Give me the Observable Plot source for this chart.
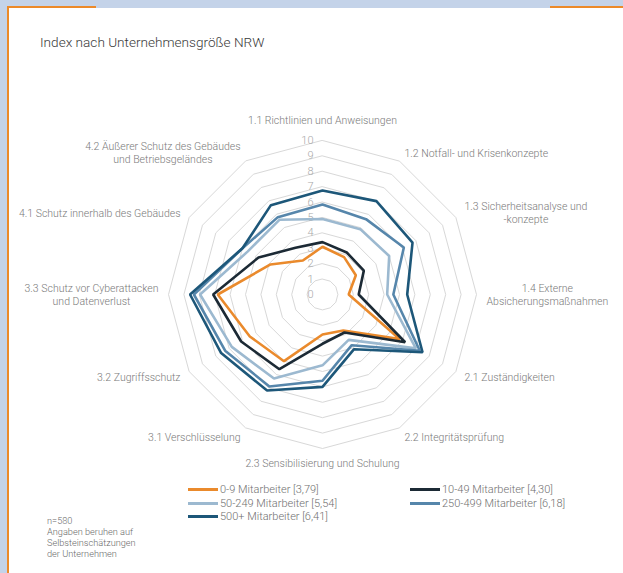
<!DOCTYPE html>
<html><head><meta charset="utf-8">
<script src="https://cdn.jsdelivr.net/npm/d3@7"></script>
<script src="https://cdn.jsdelivr.net/npm/@observablehq/plot@0.6"></script>
<style>
body{margin:0;}
#page{position:relative;width:623px;height:573px;background:#c4d3e9;overflow:hidden;font-family:Roboto,"Open Sans",sans-serif;}
#panel{position:absolute;left:9px;top:8px;right:0;bottom:0;background:#fff;}
.ov{position:absolute;left:7px;top:6px;width:2px;bottom:0;background:#ec8a2a;}
.oh1{position:absolute;left:7px;top:6px;width:89px;height:2px;background:#ec8a2a;}
.oh2{position:absolute;left:550px;top:6px;right:0;height:2px;background:#ec8a2a;}
#title{position:absolute;left:40px;top:34px;font-size:13.6px;color:#3a3a3a;font-weight:300;}
#chart{position:absolute;left:0;top:100px;}
.lg{position:absolute;font-size:11px;color:#707070;font-weight:300;display:flex;align-items:center;white-space:nowrap;}
.sw{display:inline-block;width:30px;height:3px;margin-right:2px;}
#note{position:absolute;left:47px;top:515px;font-size:9.2px;line-height:11px;color:#6a6a6a;font-weight:300;}
</style>
</head><body>
<div id="page">
  <div id="panel"></div>
  <div class="ov"></div><div class="oh1"></div><div class="oh2"></div>
  <div id="title">Index nach Unternehmensgröße NRW</div>
  <div id="chart"></div>
  <div id="legend"></div>
  <div id="note">n=580<br>Angaben beruhen auf<br>Selbsteinschätzungen<br>der Unternehmen</div>
</div>
<script>
// ---- data ----
const axisLabels = [
  "1.1 Richtlinien und Anweisungen",
  "1.2 Notfall- und Krisenkonzepte",
  "1.3 Sicherheitsanalyse und\n-konzepte",
  "1.4 Externe\nAbsicherungsmaßnahmen",
  "2.1 Zuständigkeiten",
  "2.2 Integritätsprüfung",
  "2.3 Sensibilisierung und Schulung",
  "3.1 Verschlüsselung",
  "3.2 Zugriffsschutz",
  "3.3 Schutz vor Cyberattacken\nund Datenverlust",
  "4.1 Schutz innerhalb des Gebäudes",
  "4.2 Äußerer Schutz des Gebäudes\nund Betriebsgeländes"
];
const seriesNames = ["0-9 Mitarbeiter", "10-49 Mitarbeiter", "50-249 Mitarbeiter", "250-499 Mitarbeiter", "500+ Mitarbeiter"];
const seriesMeans = ["3,79", "4,30", "5,54", "6,18", "6,41"];
const values0to9     = [3.1, 2.8, 2.5, 1.7, 5.8, 2.7, 2.6, 5.0, 5.45, 6.8, 3.9, 2.55];
const values10to49   = [3.4, 3.15, 3.1, 2.35, 6.2, 2.85, 3.2, 5.6, 6.1, 7.1, 4.8, 3.5];
const values50to249  = [4.9, 4.9, 5.0, 4.2, 7.0, 3.4, 4.6, 6.3, 6.8, 7.95, 5.6, 5.6];
const values250to499 = [5.85, 5.65, 6.1, 4.6, 7.3, 3.8, 5.6, 6.9, 7.3, 8.35, 6.0, 5.8];
const values500plus  = [6.75, 7.0, 6.75, 5.5, 7.5, 4.1, 6.0, 7.2, 7.6, 8.6, 6.0, 6.7];
const ringTicks = [0, 1, 2, 3, 4, 5, 6, 7, 8, 9, 10];

// ---- styles / layout ----
const seriesColors = ["#ea8a2c", "#1c2a35", "#9cb9d0", "#5686ab", "#1d5779"];
const W = 623, H = 370, CX = 322, CY = 194, K = 15.4;
const n = axisLabels.length;
const ang = i => i * 2 * Math.PI / n;

const allSeries = [values0to9, values10to49, values50to249, values250to499, values500plus];
const pts = [];
allSeries.forEach((vals, s) => vals.forEach((v, i) => pts.push({series: seriesNames[s], x: v * Math.sin(ang(i)), y: v * Math.cos(ang(i))})));

const ringPts = [];
ringTicks.filter(k => k > 0).forEach(k => axisLabels.forEach((_, i) => ringPts.push({ring: k, x: k * Math.sin(ang(i)), y: k * Math.cos(ang(i))})));

// label placement
const labelFont = 10.5;
const ctx = document.createElement("canvas").getContext("2d");
ctx.font = `300 ${labelFont}px Roboto`;
const labelData = axisLabels.map((t, i) => {
  const s = Math.sin(ang(i)), c = Math.cos(ang(i));
  const w = Math.max(...t.split("\n").map(l => ctx.measureText(l).width));
  let R = 10.65, la = "middle";
  if (Math.abs(s) < 0.1) { R = c > 0 ? 11.05 : 10.6; la = c > 0 ? "bottom" : "top"; }
  const sign = Math.abs(s) < 0.1 ? 0 : Math.sign(s);
  return {text: t, x: R * s + sign * (w / 2) / K, y: R * c, la};
});

const plot = Plot.plot({
  width: W, height: H, margin: 0,
  x: {domain: [-CX / K, (W - CX) / K], range: [0, W], axis: null},
  y: {domain: [-(H - CY) / K, CY / K], range: [H, 0], axis: null},
  color: {domain: seriesNames, range: seriesColors},
  style: {fontFamily: "Roboto, sans-serif", background: "transparent"},
  marks: [
    Plot.line(ringPts, {x: "x", y: "y", z: "ring", curve: "linear-closed", stroke: "#d8d8d8", strokeWidth: 1}),
    Plot.text(ringTicks, {x: d => 0, y: d => d, text: d => String(d), textAnchor: "end", dx: -9, fill: "#a9a9a9", fontSize: 11, fontWeight: 300}),
    ...["top", "middle", "bottom"].map(la => Plot.text(labelData.filter(d => d.la === la), {x: "x", y: "y", text: "text", textAnchor: "middle", lineAnchor: la, fill: "#7a7a7a", fontSize: labelFont, fontWeight: 300, lineHeight: 1.24})),
    Plot.line(pts, {x: "x", y: "y", z: "series", stroke: "series", curve: "linear-closed", strokeWidth: 2.6, strokeLinejoin: "miter"})
  ]
});
document.getElementById("chart").appendChild(plot);

// legend
const legendPos = [[188, 490], [410, 490], [188, 504], [410, 504], [188, 517]];
const lg = document.getElementById("legend");
seriesNames.forEach((name, i) => {
  const d = document.createElement("div");
  d.className = "lg";
  d.style.left = legendPos[i][0] + "px";
  d.style.top = (legendPos[i][1] - 7) + "px";
  d.innerHTML = `<span class="sw" style="background:${seriesColors[i]}"></span>${name} [${seriesMeans[i]}]`;
  lg.appendChild(d);
});
</script>
</body></html>
